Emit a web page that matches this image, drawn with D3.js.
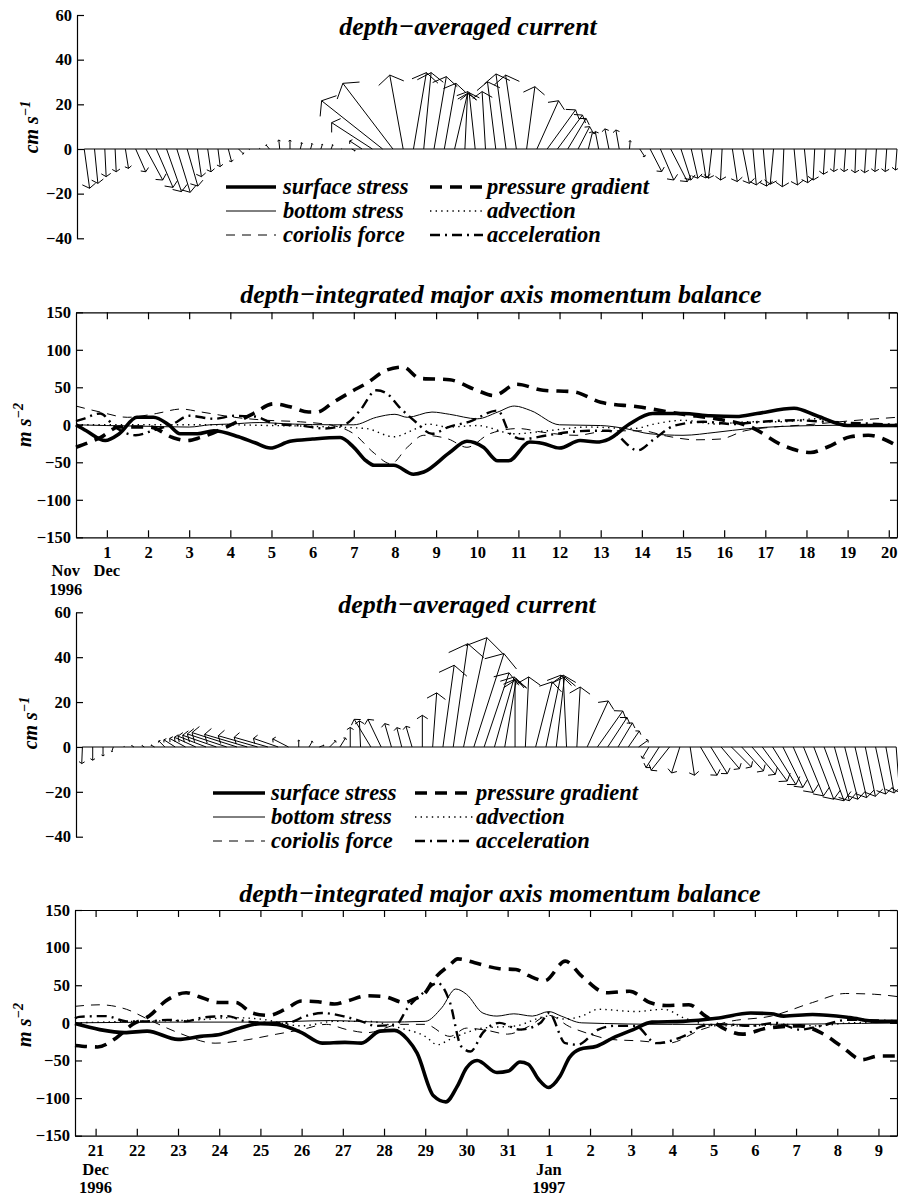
<!DOCTYPE html>
<html>
<head>
<meta charset="utf-8">
<script src="https://cdn.jsdelivr.net/npm/d3@7"></script>
<style>
body { margin: 0; background: #fff; }
text { font-family: "Liberation Serif", "Times New Roman", serif; fill: #000; }
.tick-label { font-weight: bold; font-size: 16.5px; }
.title { font-weight: bold; font-style: italic; font-size: 26px; }
.unit { font-weight: bold; font-style: italic; font-size: 20px; }
.legend-label { font-weight: bold; font-style: italic; font-size: 22.5px; }
</style>
</head>
<body>
<script>
// ---- data ----
var currentTicks = [-40, -20, 0, 20, 40, 60]
var balanceTicks = [-150, -100, -50, 0, 50, 100, 150]

var dayTicks1 = [1, 2, 3, 4, 5, 6, 7, 8, 9, 10, 11, 12, 13, 14, 15, 16, 17, 18, 19, 20]
var dayLabels1 = ['1', '2', '3', '4', '5', '6', '7', '8', '9', '10', '11', '12', '13', '14', '15', '16', '17', '18', '19', '20']
var months1 = [{t: 0, name: 'Nov'}, {t: 1, name: 'Dec'}]
var years1 = [{t: 0, name: '1996'}]

var dayTicks2 = [21, 22, 23, 24, 25, 26, 27, 28, 29, 30, 31, 32, 33, 34, 35, 36, 37, 38, 39, 40]
var dayLabels2 = ['21', '22', '23', '24', '25', '26', '27', '28', '29', '30', '31', '1', '2', '3', '4', '5', '6', '7', '8', '9']
var months2 = [{t: 21, name: 'Dec'}, {t: 32, name: 'Jan'}]
var years2 = [{t: 21, name: '1996'}, {t: 32, name: '1997'}]

// 6-hourly depth-averaged current (cm/s), east (u) and north (v)
var stickStart1 = 0.45, stickStart2 = 20.68, stickStep = 0.25
var stickU1 = [2.4, 1.5, 0.6, 0.5, 1.4, 4.5, 7.5, 7.5, 6.7, 6.0, 4.8, 1.8, 1.5, 1.0, 1.5, 2.2,
    0.3, 0.3, -1.5, -0.4, 0.0, 0.7, 0.7, 0.7, 0.7, 0.2, 1.5, -5.5, -18.2, -27.3, -22.4, -6.0,
    5.8, 3.3, 5.5, 5.2, 6.0, 1.2, -2.7, -1.5, -3.7, -4.5, -4.8, 3.7, 9.7, 12.7, 11.2, 8.2,
    5.2, 1.9, -1.5, -1.8, -1.5, 0.3, 2.2, 5.2, 6.0, 7.5, 4.5, 3.0, 2.0, -1.5, -0.7, 2.2,
    3.0, 1.5, 1.5, -1.5, -0.7, 1.5, 1.5, -0.7, -0.7, -0.7, -0.7, -0.4, -0.7, -0.7, -0.7, -0.7]
var stickV1 = [-17.6, -15.4, -12.4, -10.2, -8.7, -10.2, -13.9, -17.2, -19.1, -19.4, -16.6, -12.4, -10.2, -7.9, -5.7, -2.2,
    -0.3, 0.3, 1.8, 4.0, 3.9, 2.8, 2.4, 2.1, 1.9, 0.2, -0.8, 3.6, 11.8, 21.6, 29.4, 33.1,
    34.2, 34.2, 32.4, 29.4, 25.7, 24.9, 25.2, 25.7, 30.1, 33.6, 33.1, 27.9, 21.6, 17.5, 15.2, 13.7,
    10.0, 7.8, 7.8, 9.0, 8.5, 3.7, -3.4, -10.1, -13.9, -14.6, -13.9, -13.1, -13.0, -13.1, -13.9, -14.6,
    -15.4, -16.1, -16.6, -15.8, -16.9, -16.1, -15.1, -13.9, -11.3, -10.1, -10.1, -10.6, -10.6, -10.1, -10.1, -9.4]
var stickU2 = [-0.3, 0, 0, -0.7, 0.3, -1.0, -1.0, -1.5, -2.7, -5.0, -7.0, -9.5, -12.5, -15.0, -17.5, -20.0,
    -19.0, -17.5, -15.0, -11.0, -7.0, 0, 1.5, 2.0, 2.7, 2.5, 0, -0.5, -7.4, -5.9, -3.0, -2.2,
    -2.7, 0, 1.8, 5.0, 6.5, 10.4, 13.4, 11.1, 8.9, 5.2, 0, 1.5, 7.4, 6.7, 3.7, -1.5,
    1.5, 9.4, 11.3, 8.6, 6.4, 4.9, 4.2, -3.0, -5.9, -8.2, -3.7, 1.9, 7.4, 7.4, 8.2, 8.9,
    9.7, 10.4, 11.1, 10.4, 8.9, 8.9, 8.9, 8.9, 8.9, 6.7, 5.9, 5.2, 4.5, 4.5, 3.7, 1.5]
var stickV2 = [-7.4, -5.9, -4.0, -2.1, 0.3, 0.6, 0.6, 0.8, 2.7, 3.2, 3.8, 4.3, 4.8, 5.2, 5.8, 6.4,
    5.6, 5.0, 4.3, 3.8, 3.6, 3.0, 2.5, 0.7, 2.7, 4.0, 8.7, 11.6, 12.3, 12.3, 10.4, 8.6,
    9.2, 14.1, 24.1, 36.4, 46.0, 48.7, 41.6, 33.0, 31.2, 30.4, 29.7, 31.2, 29.0, 32.0, 31.2, 32.0,
    26.7, 20.5, 16.0, 13.1, 10.7, 7.1, 3.0, -5.0, -9.2, -10.4, -11.6, -12.6, -12.6, -11.9, -9.7, -8.9,
    -10.7, -12.2, -15.2, -16.8, -18.0, -20.3, -21.8, -23.3, -24.0, -24.0, -23.3, -22.6, -22.0, -21.0, -20.5, -20.3]

// momentum balance terms (m s^-2 scaled), [day, value]
var surface1 = [[0.25, 0], [0.5, -8], [0.96, -21], [1.3, -12], [1.73, 10], [2.13, 10], [2.5, 0], [2.78, -12], [3.2, -12],
    [3.6, -8], [4.2, -16], [4.6, -24], [4.97, -31], [5.45, -22], [6, -19], [6.67, -17], [7.0, -30], [7.3, -48], [7.5, -54],
    [7.97, -54], [8.45, -66], [8.7, -63], [9.33, -37], [9.75, -22], [10.15, -30], [10.5, -48], [10.76, -48], [11.28, -23],
    [11.6, -25], [12, -31], [12.5, -21], [12.9, -23], [13.2, -19], [13.7, 1], [14.26, 15], [15, 15], [15.66, 12], [16.3, 11],
    [16.8, 15], [17.7, 22], [18.25, 12], [19, -1], [20.2, -1]]
var bottom1 = [[0.25, 0], [1, -1], [2, -2], [3, -3], [3.5, 0], [4, 1], [4.7, 3], [5.5, 1], [6.5, 0], [7, 0], [7.55, 10],
    [8, 14], [8.3, 10], [8.9, 17], [9.33, 14], [10, 8], [10.5, 17], [10.9, 25], [11.3, 19], [12, 0], [13, -1], [13.6, -5],
    [14.2, -12], [15, -14], [15.8, -10], [16.6, -5], [18.2, -1], [20.2, 0]]
var coriolis1 = [[0.25, 25], [0.84, 17], [1.5, 10], [2.2, 15], [2.8, 21], [3.3, 17], [4.1, 10], [4.9, 6], [5.7, 4],
    [6.5, -1], [7.0, -12], [7.5, -38], [7.9, -52], [8.3, -30], [8.7, -14], [9.3, -19], [9.75, -30], [10.3, -12], [11, -5],
    [11.6, -10], [12.4, -14], [13.2, -8], [14, -8], [14.6, -15], [15.3, -20], [15.9, -19], [16.5, -8], [17.2, -3], [18, 0],
    [19, 5], [20.2, 10]]
var pressure1 = [[0.25, -30], [0.84, -17], [1.3, -3], [2.05, -3], [2.6, -17], [2.95, -21], [3.27, -17], [3.9, -3],
    [4.56, 15], [5.05, 28], [5.45, 24], [5.9, 17], [6.1, 17], [6.5, 30], [7, 46], [7.3, 55], [7.8, 73], [8.2, 77], [8.6, 62],
    [9.33, 60], [9.99, 46], [10.4, 39], [10.96, 54], [11.6, 46], [12.34, 44], [13, 30], [13.9, 24], [15, 14], [15.8, 8],
    [16.65, -3], [17.45, -28], [18.1, -37], [18.5, -30], [19.07, -16], [19.5, -14], [20.2, -28]]
var advection1 = [[0.25, 0], [2, 0], [4, 0], [5, -1], [6, -2], [6.5, -3], [7.3, -5], [7.97, -16], [8.4, -8], [8.8, 1],
    [9.3, -3], [10, -1], [10.9, -12], [11.7, -8], [12.7, -3], [13.8, -5], [14.3, 1], [15, 6], [15.8, 1], [16.6, 4],
    [17.4, 4], [18.2, 8], [19, -1], [20.2, -1]]
var acceleration1 = [[0.25, 5], [0.43, 8], [0.84, 15], [1.2, -3], [1.7, -14], [2.1, -8], [2.6, 1], [3.0, 12], [3.6, 8],
    [4.1, 12], [4.6, 11], [5.1, 1], [5.7, -1], [6.3, -5], [6.8, 1], [7.15, 19], [7.55, 46], [7.8, 42], [8.1, 24], [8.5, 4],
    [8.9, -12], [9.3, -3], [9.8, 4], [10.5, 19], [10.8, -12], [11.1, -19], [11.7, -14], [12.2, -10], [12.7, -8], [13.2, -8],
    [13.9, -34], [14.3, -19], [14.8, -1], [15.5, 4], [16.2, 1], [16.9, 4], [17.7, 6], [18.5, 4], [20.2, 0]]

var surface2 = [[20.5, -1], [21.1, -9], [21.7, -13], [22.25, -11], [23, -22], [23.55, -18], [24.04, -15], [24.5, -7],
    [25, -1], [25.4, -2], [26, -13], [26.5, -27], [27.05, -26], [27.45, -27], [27.9, -11], [28.25, -10], [28.57, -22],
    [28.8, -40], [29.2, -97], [29.5, -105], [29.78, -84], [30.0, -60], [30.26, -50], [30.74, -66], [31.02, -64], [31.3, -52],
    [31.5, -55], [31.75, -75], [31.99, -86], [32.27, -71], [32.5, -46], [32.75, -35], [33.16, -31], [33.56, -20], [34.05, -9],
    [34.5, 1], [35.26, 2], [36.07, 6], [36.9, 13], [37.4, 12], [37.7, 9], [38.4, 11], [39.3, 7], [39.94, 2], [40.45, 2]]
var bottom2 = [[20.5, 0], [23, 1], [25, 1], [26.7, 3], [28, 1], [29, 2], [29.4, 20], [29.74, 45], [30.0, 38], [30.4, 13],
    [30.74, 9], [31.15, 12], [31.6, 9], [32.0, 15], [32.3, 9], [32.8, 0], [35, -2], [37, -2], [40.45, 0]]
var coriolis2 = [[20.5, 22], [21.1, 24], [21.75, 18], [22.3, 4], [23, -13], [23.9, -27], [24.5, -24], [25.4, -15],
    [26, -9], [26.6, -2], [27.1, -9], [27.6, -13], [28.4, -2], [29, -2], [29.6, -18], [30, -7], [30.5, -10], [31, -15],
    [31.5, -5], [32, 10], [32.5, -5], [33, -15], [33.5, -22], [34.2, -24], [34.9, -27], [35.7, -9], [36.4, 2], [37.4, 9],
    [38.4, 27], [39.2, 39], [39.9, 38], [40.45, 35]]
var pressure2 = [[20.5, -30], [21.05, -32], [21.5, -20], [21.9, -2], [22.3, 9], [22.7, 29], [23.2, 40], [23.5, 35],
    [24, 27], [24.4, 27], [24.8, 13], [25.2, 10], [25.6, 18], [26, 29], [26.4, 28], [26.8, 25], [27.1, 29], [27.6, 36],
    [28, 35], [28.5, 27], [28.7, 31], [29, 40], [29.2, 57], [29.6, 77], [29.79, 85], [30.2, 80], [30.8, 72], [31.2, 71],
    [31.5, 63], [31.9, 56], [32.4, 82], [32.8, 62], [33.4, 40], [33.96, 42], [34.45, 27], [34.85, 23], [35.4, 24],
    [35.8, 9], [36.3, -9], [36.7, -15], [37.3, -7], [38.1, -4], [38.6, -13], [39.1, -31], [39.6, -49], [40, -44], [40.45, -44]]
var advection2 = [[20.5, 0], [21.9, 2], [23.5, 4], [24.3, 7], [25, 5], [26, -4], [26.8, 2], [27.6, 2], [28.4, -7],
    [29, -18], [29.3, -29], [29.6, -22], [30, -13], [30.4, -7], [31.2, -4], [32.0, 9], [32.4, 5], [32.8, 9], [33.2, 18],
    [34.1, 15], [34.8, 18], [35.26, 7], [36.07, -4], [36.9, -4], [37.7, -2], [38.5, -4], [39.3, 0], [40.45, 1]]
var acceleration2 = [[20.5, 6], [20.6, 8], [21.25, 9], [21.75, 2], [22.25, 2], [22.74, 4], [23.2, 2], [23.6, 7],
    [24.2, 9], [24.65, 2], [25.2, 0], [25.65, 0], [26.1, 9], [26.5, 13], [27, 9], [27.45, 2], [27.8, -4], [28.3, -2],
    [28.55, 18], [29, 42], [29.3, 53], [29.6, 27], [29.87, -31], [30.1, -38], [30.4, -13], [30.8, 0], [31.3, -9], [31.8, 0],
    [32.0, 13], [32.4, -27], [32.7, -29], [33.2, -9], [33.6, -4], [34.1, -4], [34.6, -27], [35.26, -18], [35.75, -4],
    [36.25, -2], [36.9, -4], [37.5, 0], [38.1, -9], [38.6, -4], [39.25, 4], [40.45, 2]]

var termNames = ['surface', 'bottom', 'coriolis', 'pressure', 'advection', 'acceleration']
var termLabels = ['surface stress', 'bottom stress', 'coriolis force', 'pressure gradient', 'advection', 'acceleration']

// ---- styles ----
var termStyle = {
    surface: {width: 3.6, dash: null},
    bottom: {width: 1, dash: null},
    coriolis: {width: 1, dash: '9,7'},
    pressure: {width: 3.6, dash: '12,8'},
    advection: {width: 1.4, dash: '1.4,4.2'},
    acceleration: {width: 2.4, dash: '10,5,2,5'}
}

var svg = d3.select('body').append('svg')
    .attr('width', 898).attr('height', 1197)

var x1 = d3.scaleLinear().domain([0.25, 20.2]).range([76, 897])
var x2 = d3.scaleLinear().domain([20.5, 40.45]).range([75, 897])

function styleAxis(sel, showText) {
    sel.attr('font-family', null).attr('font-size', null)
    sel.selectAll('path, line').attr('stroke', '#000').attr('stroke-width', 1.2)
    sel.selectAll('text').attr('class', 'tick-label')
    if (!showText) sel.selectAll('text').remove()
}

function unitLabel(x, y, base, sup) {
    var t = svg.append('text')
        .attr('class', 'unit')
        .attr('text-anchor', 'middle')
        .attr('transform', 'translate(' + x + ',' + y + ') rotate(-90)')
    t.append('tspan').text(base)
    t.append('tspan').attr('dy', -8).attr('font-size', 14).text(sup)
}

function title(x, y, txt) {
    svg.append('text').attr('class', 'title')
        .attr('x', x).attr('y', y).attr('text-anchor', 'middle')
        .text(txt)
}

function legend(p) {
    var g = svg.append('g')
    var cols = [termNames.slice(0, 3), termNames.slice(3)]
    cols.forEach(function(names, c) {
        names.forEach(function(n, r) {
            var yy = p.top + r * 24
            var st = termStyle[n]
            g.append('line')
                .attr('x1', p.cols[c][0]).attr('x2', p.cols[c][1])
                .attr('y1', yy).attr('y2', yy)
                .attr('stroke', '#000')
                .attr('stroke-width', st.width)
                .attr('stroke-dasharray', st.dash)
            g.append('text').attr('class', 'legend-label')
                .attr('x', p.cols[c][2]).attr('y', yy + 7)
                .text(termLabels[termNames.indexOf(n)])
        })
    })
}

function stickPanel(p) {
    var g = svg.append('g')
    var x = p.x
    var y = d3.scaleLinear().domain([-40, 60]).range([p.bottom, p.top])
    var k = y(0) - y(1)
    var sticks = p.u.map(function(u, i) {
        return {t: p.start + i * stickStep, u: u, v: p.v[i]}
    })

    var ax = g.append('g')
        .attr('transform', 'translate(' + p.axisX + ',0)')
        .call(d3.axisLeft(y).tickValues(currentTicks).tickSize(-7).tickSizeOuter(0).tickPadding(5))
    styleAxis(ax, true)

    g.append('line')
        .attr('x1', x(sticks[0].t)).attr('x2', x(sticks[sticks.length - 1].t))
        .attr('y1', y(0)).attr('y2', y(0))
        .attr('stroke', '#000').attr('stroke-width', 1.1)

    g.selectAll('.stick')
        .data(sticks)
        .enter().append('path')
        .attr('class', 'stick')
        .attr('fill', 'none').attr('stroke', '#000').attr('stroke-width', 1)
        .attr('d', function(s) {
            var x0 = x(s.t), y0 = y(0)
            var dx = s.u * k, dy = -s.v * k
            var x1 = x0 + dx, y1 = y0 + dy
            var a = 0.11, b = 0.17
            var hx = x1 - a * dx, hy = y1 - a * dy
            return 'M' + x0 + ',' + y0 + 'L' + x1 + ',' + y1 +
                'M' + (hx - b * dy) + ',' + (hy + b * dx) + 'L' + x1 + ',' + y1 +
                'L' + (hx + b * dy) + ',' + (hy - b * dx)
        })
}

function balancePanel(p) {
    var g = svg.append('g')
    var x = p.x
    var y = d3.scaleLinear().domain([-150, 150]).range([p.bottom, p.top])
    var left = x.range()[0], right = x.range()[1]

    var bx = g.append('g').attr('transform', 'translate(0,' + p.bottom + ')')
        .call(d3.axisBottom(x).tickValues(p.ticks)
            .tickFormat(function(d, i) { return p.labels[i] })
            .tickSize(-7).tickSizeOuter(0).tickPadding(8.5))
    styleAxis(bx, true)
    var tx = g.append('g').attr('transform', 'translate(0,' + p.top + ')')
        .call(d3.axisTop(x).tickValues(p.ticks).tickSize(-7).tickSizeOuter(0))
    styleAxis(tx, false)
    var ly = g.append('g').attr('transform', 'translate(' + left + ',0)')
        .call(d3.axisLeft(y).tickValues(balanceTicks).tickSize(-7).tickSizeOuter(0).tickPadding(5))
    styleAxis(ly, true)
    var ry = g.append('g').attr('transform', 'translate(' + right + ',0)')
        .call(d3.axisRight(y).tickValues(balanceTicks).tickSize(-7).tickSizeOuter(0))
    styleAxis(ry, false)

    var line = d3.line()
        .x(function(d) { return x(d[0]) })
        .y(function(d) { return y(d[1]) })
        .curve(d3.curveMonotoneX)

    var order = ['bottom', 'coriolis', 'advection', 'acceleration', 'pressure', 'surface']
    order.forEach(function(n) {
        var st = termStyle[n]
        g.append('path')
            .datum(p.series[n])
            .attr('fill', 'none')
            .attr('stroke', '#000')
            .attr('stroke-width', st.width)
            .attr('stroke-dasharray', st.dash)
            .attr('d', line)
    })

    g.selectAll('.month').data(p.months).enter().append('text')
        .attr('class', 'tick-label').attr('text-anchor', 'middle')
        .attr('x', function(d) { return x(d.t) }).attr('y', p.bottom + 38.8)
        .text(function(d) { return d.name })
    g.selectAll('.year').data(p.years).enter().append('text')
        .attr('class', 'tick-label').attr('text-anchor', 'middle')
        .attr('x', function(d) { return x(d.t) }).attr('y', p.bottom + 57.3)
        .text(function(d) { return d.name })
}

// ---- panels ----
title(468, 35, 'depth\u2212averaged current')
stickPanel({x: x1, axisX: 77, top: 15, bottom: 238.3, start: stickStart1, u: stickU1, v: stickV1})
legend({top: 187, cols: [[226, 276, 283], [430, 483, 487]]})
unitLabel(38, 127, 'cm s', '\u22121')

title(501, 303, 'depth\u2212integrated major axis momentum balance')
balancePanel({
    x: x1, top: 312.3, bottom: 537.3, ticks: dayTicks1, labels: dayLabels1, months: months1, years: years1,
    series: {surface: surface1, bottom: bottom1, coriolis: coriolis1, pressure: pressure1,
        advection: advection1, acceleration: acceleration1}
})
unitLabel(31, 425, 'm s', '\u22122')

title(467, 613, 'depth\u2212averaged current')
stickPanel({x: x2, axisX: 76, top: 612.3, bottom: 836.7, start: stickStart2, u: stickU2, v: stickV2})
legend({top: 793, cols: [[213, 265, 271], [415, 473, 476]]})
unitLabel(37, 723, 'cm s', '\u22121')

title(500, 902, 'depth\u2212integrated major axis momentum balance')
balancePanel({
    x: x2, top: 910, bottom: 1135.7, ticks: dayTicks2, labels: dayLabels2, months: months2, years: years2,
    series: {surface: surface2, bottom: bottom2, coriolis: coriolis2, pressure: pressure2,
        advection: advection2, acceleration: acceleration2}
})
unitLabel(31, 1025, 'm s', '\u22122')
</script>
</body>
</html>
